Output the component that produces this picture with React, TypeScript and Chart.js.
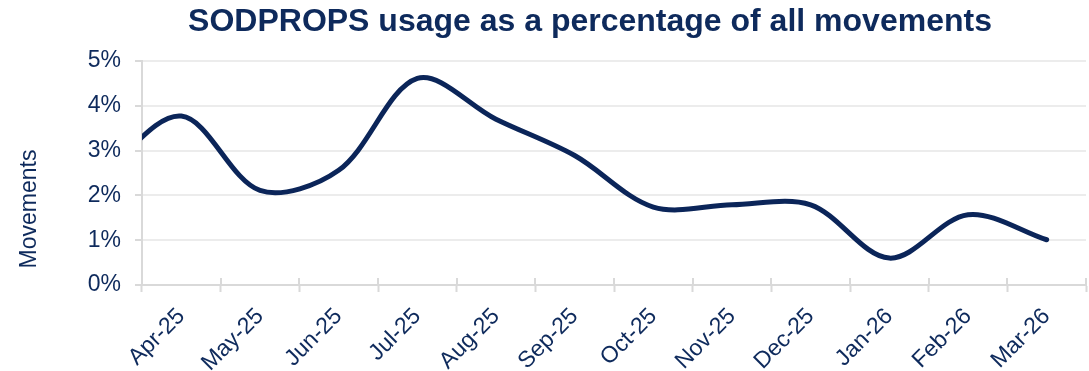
import React, { useEffect, useRef } from "react";
import { Chart, registerables } from "chart.js";

Chart.register(...registerables);

// ---- data ----
const categories = [
  "Apr-25", "May-25", "Jun-25", "Jul-25", "Aug-25", "Sep-25",
  "Oct-25", "Nov-25", "Dec-25", "Jan-26", "Feb-26", "Mar-26",
];
// SODPROPS usage as % of all movements, one value per month
const usagePercent = [3.77, 2.11, 2.56, 4.61, 3.7, 2.89, 1.74, 1.79, 1.79, 0.6, 1.57, 1.01];
// previous month (Mar-25), only its incoming curve is visible at the left edge
const priorMonthPercent = 2.5;
const yTickValues = [0, 1, 2, 3, 4, 5];
const chartTitle = "SODPROPS usage as a percentage of all movements";
const yAxisTitle = "Movements";

const TEXT = "#0e2a5c";
const LINE = "#0b2559";
const GRID = "#ececec";
const AXIS = "#d9d9d9";
const FONT = '"Liberation Sans", Arial, sans-serif';

const decorPlugin = {
  id: "decor",
  afterDraw(chart: any) {
    const { ctx, chartArea } = chart;
    const xl = chart.scales.xl;
    ctx.save();
    // inner half of the crossing tick marks on the category axis
    ctx.strokeStyle = AXIS;
    ctx.lineWidth = 2;
    for (let i = 0; i <= categories.length; i++) {
      const px = Math.round(xl.getPixelForValue(i - 0.5));
      ctx.beginPath();
      ctx.moveTo(px, chartArea.bottom - 7);
      ctx.lineTo(px, chartArea.bottom);
      ctx.stroke();
    }
    // title
    ctx.fillStyle = TEXT;
    ctx.font = `bold 32px ${FONT}`;
    ctx.textAlign = "center";
    ctx.textBaseline = "alphabetic";
    ctx.fillText(chartTitle, 590, 31);
    // y axis title
    ctx.translate(30, 209);
    ctx.rotate(-Math.PI / 2);
    ctx.font = `23px ${FONT}`;
    ctx.textBaseline = "middle";
    ctx.fillText(yAxisTitle, 0, 0);
    ctx.restore();
  },
};

export default function App() {
  const ref = useRef<HTMLCanvasElement | null>(null);

  useEffect(() => {
    if (!ref.current) return;
    const points = [
      { x: -1, y: priorMonthPercent },
      ...usagePercent.map((v, i) => ({ x: i, y: v })),
    ];
    const chart = new Chart(ref.current, {
      type: "line",
      data: {
        labels: categories,
        datasets: [
          {
            label: "SODPROPS usage",
            data: points,
            xAxisID: "xl",
            yAxisID: "y",
            borderColor: LINE,
            borderWidth: 5,
            pointRadius: 0,
            tension: 0.33,
            fill: false,
            clip: 0,
          } as any,
        ],
      },
      plugins: [decorPlugin],
      options: {
        responsive: false,
        animation: false,
        events: [],
        elements: { line: { capBezierPoints: false, borderCapStyle: "round" } },
        layout: { padding: { top: 61, right: 3, left: 0, bottom: 0 } },
        plugins: {
          legend: { display: false },
          title: { display: false },
          tooltip: { enabled: false },
        },
        scales: {
          xl: {
            type: "linear",
            display: false,
            min: -0.5,
            max: categories.length - 0.5,
          },
          x: {
            type: "category",
            position: "bottom",
            offset: true,
            grid: {
              offset: true,
              drawOnChartArea: false,
              drawTicks: true,
              tickLength: 7,
              tickWidth: 2,
              tickColor: AXIS,
            },
            border: { color: AXIS, width: 2 },
            ticks: {
              color: TEXT,
              font: { family: FONT, size: 23 },
              minRotation: 45,
              maxRotation: 45,
              autoSkip: false,
              padding: 11,
            },
            afterFit: (scale: any) => {
              scale.height = 86;
            },
          },
          y: {
            type: "linear",
            position: "left",
            min: yTickValues[0],
            max: yTickValues[yTickValues.length - 1],
            afterBuildTicks: (scale: any) => {
              scale.ticks = yTickValues.map((v) => ({ value: v }));
            },
            grid: {
              color: GRID,
              lineWidth: 2,
              tickLength: 7,
              tickColor: AXIS,
            },
            border: { color: AXIS, width: 2 },
            ticks: {
              color: TEXT,
              font: { family: FONT, size: 23 },
              padding: 14,
              callback: (v: any) => `${v}%`,
            },
            afterFit: (scale: any) => {
              scale.width = 142;
            },
          },
        },
      } as any,
    });
    return () => chart.destroy();
  }, []);

  return (
    <div style={{ position: "fixed", left: 0, top: 0, width: 1089, height: 371, background: "#fff" }}>
      <canvas ref={ref} width={1089} height={371} style={{ display: "block" }} />
    </div>
  );
}
